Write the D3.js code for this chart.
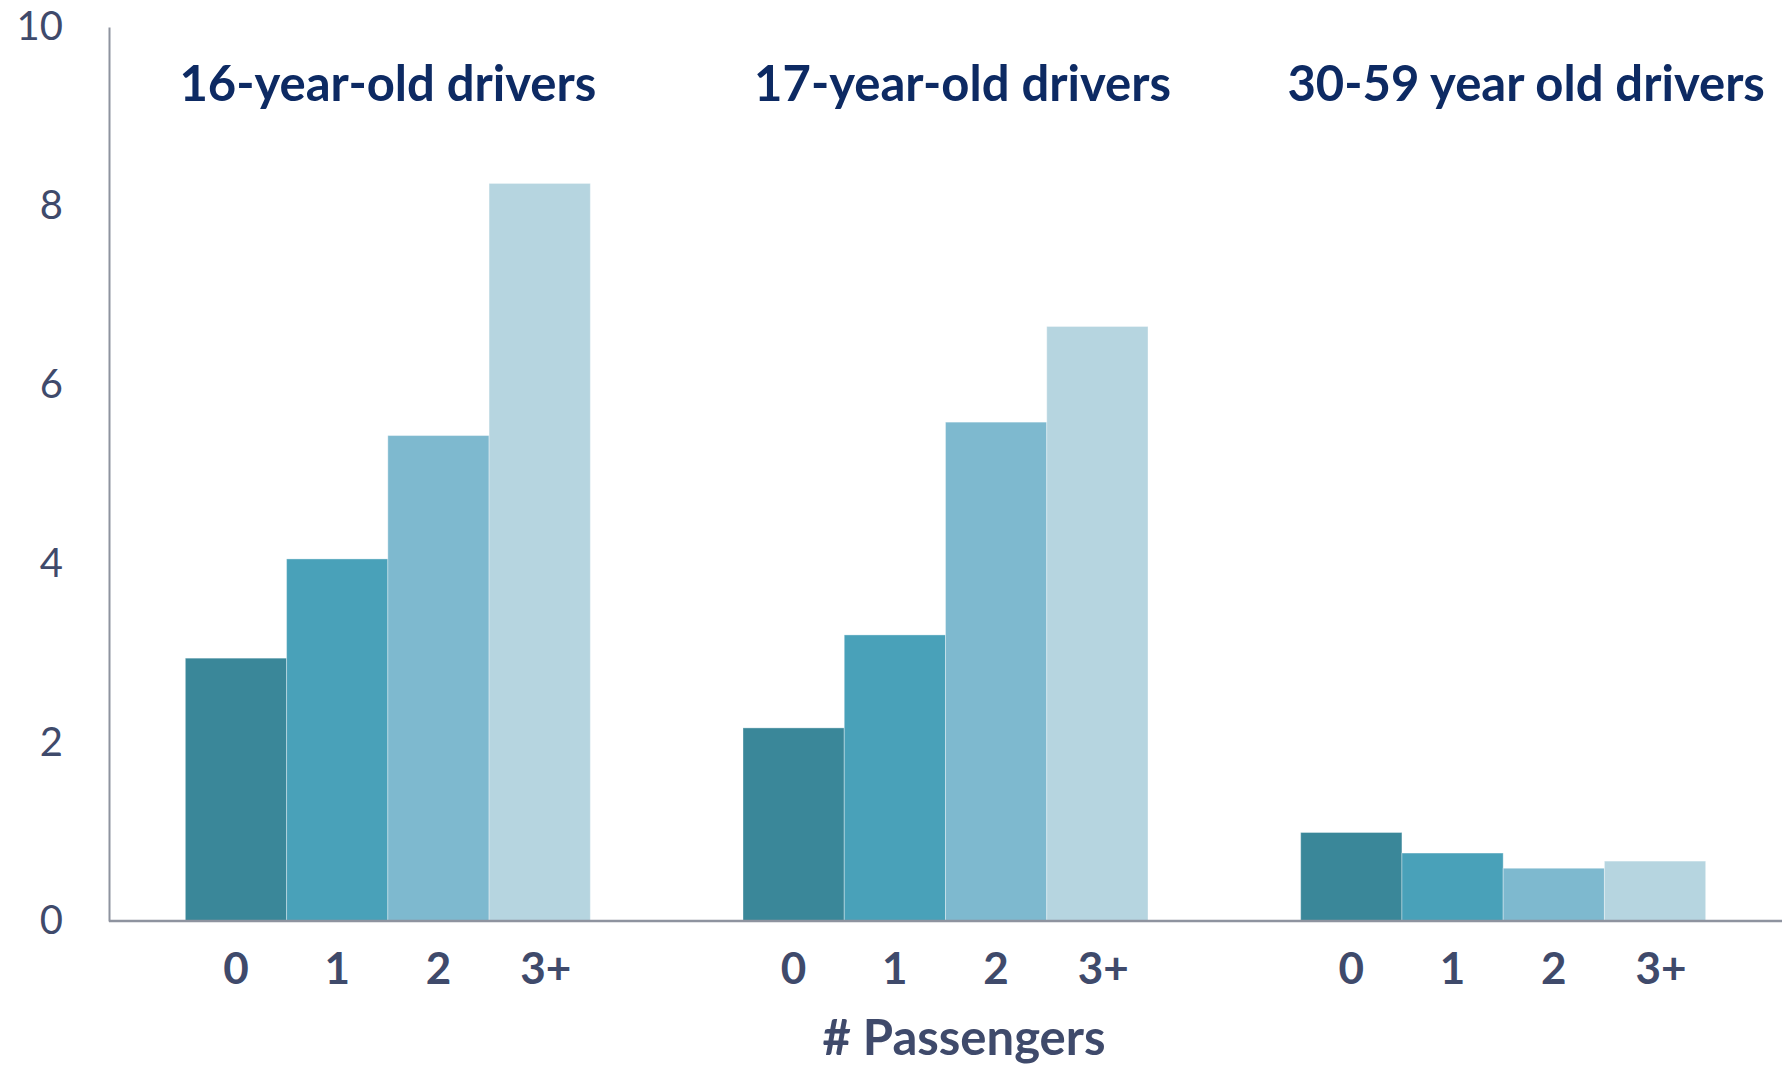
<!DOCTYPE html>
<html>
<head>
<meta charset="utf-8">
<script src="https://cdn.jsdelivr.net/npm/d3@7"></script>
<style>
  html, body { margin: 0; padding: 0; background: #ffffff; }
  svg { display: block; font-family: Lato, "Open Sans", sans-serif; }
</style>
</head>
<body>
<svg id="chart" width="1789" height="1067"></svg>
<script>
// Driver age groups and passenger counts
const groups = ["16-year-old drivers", "17-year-old drivers", "30-59 year old drivers"];
const passengers = ["0", "1", "2", "3+"];

// Relative crash risk per group, one value per passenger count
const risk16 = [2.94, 4.05, 5.43, 8.25];
const risk17 = [2.16, 3.20, 5.58, 6.65];
const risk3059 = [0.99, 0.76, 0.59, 0.67];

const yTicks = [0, 2, 4, 6, 8, 10];
const xTitle = "# Passengers";

const seriesByGroup = [risk16, risk17, risk3059];
const rows = groups.map((g, i) => ({
  group: g,
  values: passengers.map((p, j) => ({ p, v: seriesByGroup[i][j] }))
}));

const barColors = ["#3a8799", "#49a1b9", "#7eb9cf", "#b6d5e0"];
const textColor = "#3f4a6b";
const titleColor = "#0d2a63";
const axisColor = "#8e939f";

const svg = d3.select("#chart");
const margin = { left: 109, right: 7, top: 27, bottom: 146 };
const W = 1789, H = 1067;

const x0 = d3.scaleBand()
  .domain(groups)
  .range([margin.left, W - margin.right])
  .paddingInner(0)
  .paddingOuter(0);

const x1 = d3.scaleBand()
  .domain(passengers)
  .range([0, x0.bandwidth()])
  .paddingInner(0)
  .paddingOuter(0.754);

const y = d3.scaleLinear()
  .domain([0, 10])
  .range([H - margin.bottom, margin.top]);

const color = d3.scaleOrdinal().domain(passengers).range(barColors);

// Bars
const g = svg.append("g");
const grp = g.selectAll("g.grp")
  .data(rows)
  .join("g")
  .attr("class", "grp")
  .attr("transform", d => `translate(${x0(d.group)},0)`);

grp.selectAll("rect")
  .data(d => d.values)
  .join("rect")
  .attr("x", d => x1(d.p))
  .attr("width", x1.bandwidth())
  .attr("y", d => y(d.v))
  .attr("height", d => y(0) - y(d.v))
  .attr("fill", d => color(d.p))
  .attr("stroke", "#ffffff")
  .attr("stroke-opacity", 0.35)
  .attr("stroke-width", 1);

// Passenger count labels below each bar
grp.selectAll("text.cat")
  .data(d => d.values)
  .join("text")
  .attr("class", "cat")
  .attr("x", d => x1(d.p) + x1.bandwidth() / 2 + (d.p === "3+" ? 6 : 0))
  .attr("y", y(0) + 46)
  .attr("dominant-baseline", "central")
  .attr("text-anchor", "middle")
  .attr("fill", textColor)
  .attr("font-weight", 700)
  .attr("font-size", 44)
  .text(d => d.p);

// Group titles
const titleNudge = [0, 17, 23];
grp.append("text")
  .attr("x", (d, i) => x0.bandwidth() / 2 + titleNudge[i])
  .attr("y", 82)
  .attr("dominant-baseline", "central")
  .attr("text-anchor", "middle")
  .attr("fill", titleColor)
  .attr("font-weight", 700)
  .attr("font-size", 49)
  .text(d => d.group);

// Y axis
const yAxis = d3.axisLeft(y).tickValues(yTicks).tickSize(0).tickPadding(46);
const ya = svg.append("g")
  .attr("transform", `translate(${margin.left},0)`)
  .call(yAxis);
ya.select(".domain").attr("stroke", axisColor).attr("stroke-width", 2);
ya.selectAll("text")
  .attr("fill", textColor)
  .attr("font-size", 40)
  .attr("font-family", "Lato, 'Open Sans', sans-serif");

// X baseline
svg.append("line")
  .attr("x1", margin.left)
  .attr("x2", W - margin.right)
  .attr("y1", y(0))
  .attr("y2", y(0))
  .attr("stroke", axisColor)
  .attr("stroke-width", 2.5);

// X axis title
svg.append("text")
  .attr("x", 964)
  .attr("y", 1036)
  .attr("dominant-baseline", "central")
  .attr("text-anchor", "middle")
  .attr("fill", textColor)
  .attr("font-weight", 700)
  .attr("font-size", 49)
  .text(xTitle);
</script>
</body>
</html>
